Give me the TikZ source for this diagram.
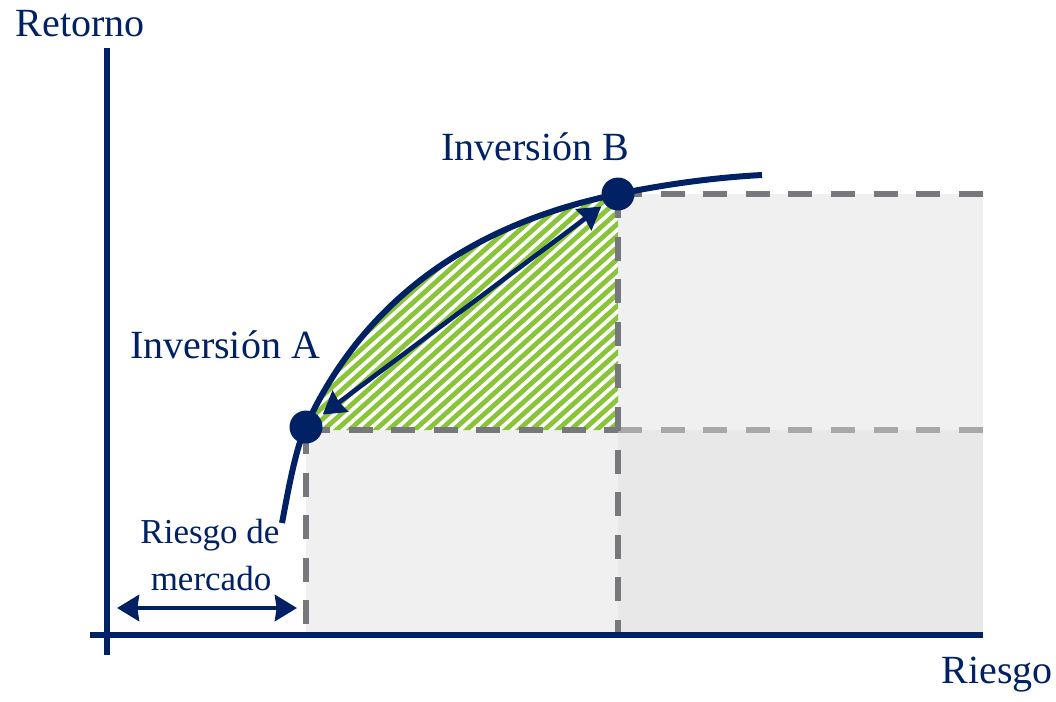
\documentclass[tikz,border=0pt]{standalone}
\usepackage{fontspec}
\setmainfont{Liberation Serif}
\usetikzlibrary{arrows.meta}
\definecolor{navy}{RGB}{0,33,100}
\definecolor{dashdark}{RGB}{118,120,124}
\definecolor{dashlight}{RGB}{168,168,168}
\definecolor{filllight}{RGB}{240,240,240}
\definecolor{filldark}{RGB}{232,232,232}
\definecolor{hatchgreen}{RGB}{138,196,56}
\tikzset{
  axisline/.style={navy, line width=2.8pt},
  curveline/.style={navy, line width=3pt},
  guide/.style={line width=2.8pt, dash pattern=on 12pt off 9.3pt},
  hatchline/.style={hatchgreen, line width=2.4pt},
  dblarrow/.style={navy, line width=2.3pt, {Stealth[length=11pt,width=13pt,inset=0.8pt]}-{Stealth[length=11pt,width=13pt,inset=0.8pt]}},
  pt/.style={circle, fill=navy, inner sep=0pt, minimum size=16.5pt},
  lbl/.style={text=navy, font=\fontsize{20}{24}\selectfont, anchor=base, inner sep=0pt},
  smalllbl/.style={text=navy, font=\fontsize{17.5}{21}\selectfont, anchor=base, inner sep=0pt}
}
\begin{document}
\begin{tikzpicture}[x=0.5pt,y=-0.5pt]
\useasboundingbox (0,0) rectangle (1056,702);
% background fills
\fill[filllight] (306,430) rectangle (618,635);
\fill[filllight] (618,194) rectangle (983,430);
\fill[filldark] (618,430) rectangle (983,635);
% hatched region
\begin{scope}
  \clip (306,426) .. controls (352,326) and (442,230) .. (618,194)
    -- (618,430) -- (306,430) -- cycle;
  \foreach \i in {-40,...,26} {
    \draw[hatchline] (306+\i*13,434) -- ++(400,-360);
  }
\end{scope}
% guide lines
\draw[guide, dashlight] (618,430) -- (983,430);
\draw[guide, dashdark] (306,430) -- (618,430);
\draw[guide, dashdark] (618,194) -- (983,194);
\draw[guide, dashdark] (306,430) -- (306,635);
\draw[guide, dashdark] (618,194) -- (618,635);
% axes
\coordinate (ytop) at (107,48);
\coordinate (ybot) at (107,655);
\coordinate (xl) at (90,635);
\coordinate (xr) at (983,635);
\draw[axisline] (ybot) -- (ytop);
\draw[axisline] (xl) -- (xr);
% curve
\draw[curveline] (282,523) .. controls (286,503) and (294.3,451.5) .. (306,426)
  .. controls (352,326) and (442,230) .. (618,194)
  .. controls (667,184) and (715,177.5) .. (762,175);
% points
\node[pt] (A) at (306,427) {};
\node[pt] (B) at (618,194) {};
\draw[dblarrow, shorten <=2pt, shorten >=2pt] (A) -- (B);
% market risk arrow
\coordinate (mL) at (117,608);
\coordinate (mR) at (297,608);
\draw[dblarrow] (mL) -- (mR);
% labels
\node[lbl] (ret) at (80,36) {Retorno};
\node[lbl] (rie) at (997,683) {Riesgo};
\node[lbl] (invB) at (535,160) {Inversión B};
\node[lbl] (invA) at (225,358) {Inversión A};
\node[smalllbl] (rm1) at (210,543) {Riesgo de};
\node[smalllbl] (rm2) at (211,590) {mercado};
\end{tikzpicture}
\end{document}
